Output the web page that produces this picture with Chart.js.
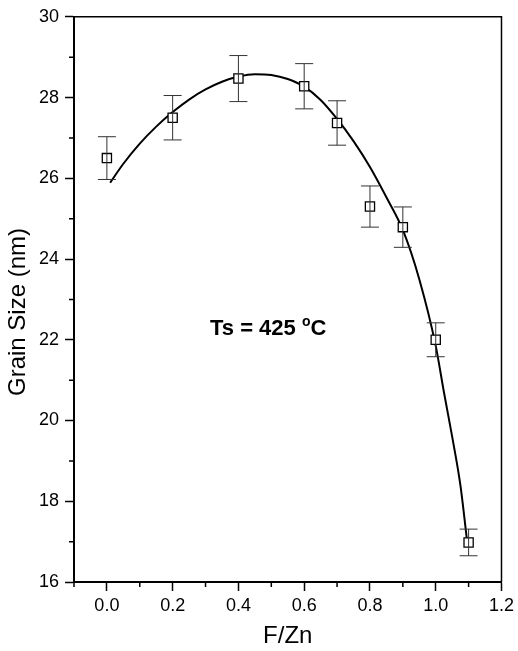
<!DOCTYPE html>
<html>
<head>
<meta charset="utf-8">
<script src="https://cdn.jsdelivr.net/npm/chart.js@4/dist/chart.umd.min.js"></script>
<style>
  body{margin:0;background:#fff;}
  #wrap{width:518px;height:651px;}
</style>
</head>
<body>
<div id="wrap"><canvas id="grainChart" width="518" height="651"></canvas></div>
<script>
// measured points (F/Zn ratio vs grain size) with error bars
const fzRatio   = [0.0, 0.2, 0.4, 0.6, 0.7, 0.8, 0.9, 1.0, 1.1];
const grainSize = [26.5, 27.5, 28.47, 28.28, 27.37, 25.3, 24.79, 22.0, 16.98];
const grainErr  = [0.53, 0.55, 0.57, 0.56, 0.55, 0.51, 0.5, 0.42, 0.33];

// fitted curve
const fitX = [0.01, 0.05, 0.1, 0.15, 0.2, 0.25, 0.3, 0.35, 0.4, 0.45, 0.5, 0.55, 0.6, 0.65, 0.7, 0.75, 0.8, 0.85, 0.9, 0.95, 1.0, 1.025, 1.05, 1.075, 1.097];
const fitY = [25.89, 26.36, 26.86, 27.28, 27.64, 27.95, 28.2, 28.39, 28.52, 28.58, 28.56, 28.46, 28.27, 27.94, 27.47, 26.92, 26.28, 25.53, 24.72, 23.5, 21.85, 20.7, 19.6, 18.4, 16.9];

const xMajor = [0.0, 0.2, 0.4, 0.6, 0.8, 1.0, 1.2];
const xMinor = [-0.1, 0.1, 0.3, 0.5, 0.7, 0.9, 1.1];
const yMajor = [16, 18, 20, 22, 24, 26, 28, 30];
const yMinor = [17, 19, 21, 23, 25, 27, 29];

const FONT = "'Liberation Sans', Arial, sans-serif";

// error bars, minor ticks, frame and labels
const extras = {
  id: 'extras',
  afterDatasetsDraw(chart){
    const ctx = chart.ctx, xs = chart.scales.x, ys = chart.scales.y;
    ctx.save();
    ctx.strokeStyle = '#333'; ctx.lineWidth = 1;
    fzRatio.forEach((f,i)=>{
      const px = xs.getPixelForValue(f);
      const top = ys.getPixelForValue(grainSize[i]+grainErr[i]);
      const bot = ys.getPixelForValue(grainSize[i]-grainErr[i]);
      ctx.beginPath();
      ctx.moveTo(px, top); ctx.lineTo(px, bot);
      ctx.moveTo(px-9, top); ctx.lineTo(px+9, top);
      ctx.moveTo(px-9, bot); ctx.lineTo(px+9, bot);
      ctx.stroke();
    });
    ctx.restore();
  },
  afterDraw(chart){
    const ctx = chart.ctx, xs = chart.scales.x, ys = chart.scales.y, a = chart.chartArea;
    ctx.save();
    ctx.strokeStyle = '#000';
    // frame top/right
    ctx.lineWidth = 1.5;
    ctx.beginPath();
    ctx.moveTo(a.left, a.top); ctx.lineTo(a.right, a.top); ctx.lineTo(a.right, a.bottom);
    ctx.stroke();
    // minor ticks
    ctx.beginPath();
    xMinor.forEach(v=>{const p = xs.getPixelForValue(v); ctx.moveTo(p, a.bottom); ctx.lineTo(p, a.bottom+5);});
    yMinor.forEach(v=>{const p = ys.getPixelForValue(v); ctx.moveTo(a.left, p); ctx.lineTo(a.left-5, p);});
    ctx.stroke();
    // y title
    ctx.fillStyle = '#000';
    ctx.font = '24px ' + FONT;
    ctx.textAlign = 'center'; ctx.textBaseline = 'middle';
    ctx.translate(18, 312); ctx.rotate(-Math.PI/2);
    ctx.fillText('Grain Size (nm)', 0, 0);
    ctx.setTransform(1,0,0,1,0,0);
    // annotation
    ctx.textAlign = 'left'; ctx.textBaseline = 'alphabetic';
    ctx.font = 'bold 22px ' + FONT;
    let x = 210, y = 335;
    ctx.fillText('Ts = 425 ', x, y); x += ctx.measureText('Ts = 425 ').width;
    ctx.font = 'bold 14px ' + FONT;
    ctx.fillText('o', x, y-9); x += ctx.measureText('o').width;
    ctx.font = 'bold 22px ' + FONT;
    ctx.fillText('C', x, y);
    ctx.restore();
  }
};

new Chart(document.getElementById('grainChart'), {
  type: 'scatter',
  data: {
    datasets: [
      {
        label: 'fit',
        data: fitX.map((x,i)=>({x:x, y:fitY[i]})),
        showLine: true,
        borderColor: '#000',
        borderWidth: 2,
        pointRadius: 0,
        cubicInterpolationMode: 'monotone',
        order: 2
      },
      {
        label: 'Grain size',
        data: fzRatio.map((x,i)=>({x:x, y:grainSize[i]})),
        pointStyle: 'rect',
        pointRadius: 6.5,
        pointBackgroundColor: '#fff',
        pointBorderColor: '#000',
        pointBorderWidth: 1.3,
        order: 1
      }
    ]
  },
  options: {
    responsive: false,
    animation: false,
    layout: {padding: {top: 14.5, right: 14.5, left: 0, bottom: 0}},
    plugins: {legend: {display: false}, tooltip: {enabled: false}},
    scales: {
      x: {
        type: 'linear', min: -0.1, max: 1.2,
        afterBuildTicks: ax => { ax.ticks = xMajor.map(v=>({value:v})); },
        afterFit: ax => { ax.height = 69; },
        grid: {drawOnChartArea: false, tickLength: 9, tickWidth: 1.5, tickColor: '#000'},
        border: {color: '#000', width: 2},
        ticks: {color: '#000', font: {family: FONT, size: 18}, padding: 4, maxRotation: 0,
          callback: v => v.toFixed(1)},
        title: {display: true, text: 'F/Zn', color: '#000', font: {family: FONT, size: 24}, padding: 0}
      },
      y: {
        type: 'linear', min: 16, max: 30,
        afterBuildTicks: ax => { ax.ticks = yMajor.map(v=>({value:v})); },
        afterFit: ax => { ax.width = 74; },
        grid: {drawOnChartArea: false, tickLength: 9, tickWidth: 1.5, tickColor: '#000'},
        border: {color: '#000', width: 2},
        ticks: {color: '#000', font: {family: FONT, size: 18}, padding: 6}
      }
    }
  },
  plugins: [extras]
});
</script>
</body>
</html>
